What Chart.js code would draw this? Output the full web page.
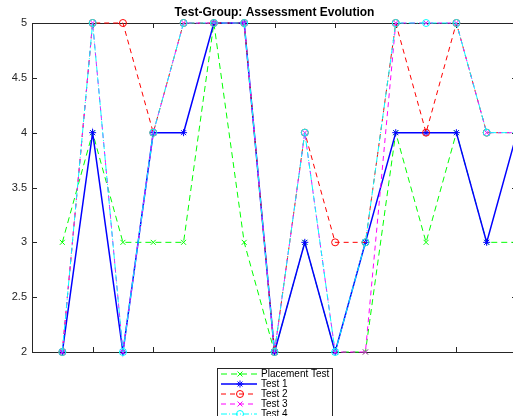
<!DOCTYPE html>
<html>
<head>
<meta charset="utf-8">
<script src="https://cdn.jsdelivr.net/npm/chart.js@4.4.1/dist/chart.umd.min.js"></script>
<style>
  html, body { margin: 0; padding: 0; background: #fff; overflow: hidden; }
</style>
</head>
<body>
<canvas id="chart" width="530" height="416"></canvas>
<script>
// data
const sessions = [1, 2, 3, 4, 5, 6, 7, 8, 9, 10, 11, 12, 13, 14, 15, 16];
const placementTest = [3, 4, 3, 3, 3, 5, 3, 2, 3, 2, 2, 4, 3, 4, 3, 3];
const test1 = [2, 4, 2, 4, 4, 5, 5, 2, 3, 2, 3, 4, 4, 4, 3, 4];
const test2 = [2, 5, 5, 4, 5, 5, 5, 2, 4, 3, 3, 5, 4, 5, 4, 4];
const test3 = [2, 5, 2, 4, 5, 5, 5, 2, 4, 2, 2, 5, 5, 5, 4, 4];
const test4 = [2, 5, 2, 4, 5, 5, 5, 2, 4, 2, 3, 5, 5, 5, 4, 4];
const yTicks = [2, 2.5, 3, 3.5, 4, 4.5, 5];
const xTicks = [2, 4, 6, 8, 10, 12, 14, 16];

const FONT = '"Liberation Sans", Arial, Helvetica, sans-serif';
const AXIS = '#262626';

function pts(vals) {
  return vals.map((v, i) => ({ x: sessions[i], y: v }));
}

function series(label, vals, color, dash, style, width, order) {
  return {
    label: label,
    data: pts(vals),
    borderColor: color,
    backgroundColor: 'rgba(0,0,0,0)',
    borderWidth: width,
    borderDash: dash,
    pointStyle: style,
    pointRadius: 3.5,
    pointBorderColor: color,
    pointBackgroundColor: 'rgba(0,0,0,0)',
    pointBorderWidth: 1,
    tension: 0,
    clip: false,
    order: order
  };
}

const datasets = [
  series('Placement Test', placementTest, '#00ff00', [6, 4], 'crossRot', 1, 5),
  series('Test 1', test1, '#0000ff', [], 'star', 1.5, 4),
  series('Test 2', test2, '#ff0000', [5, 4], 'circle', 1, 3),
  series('Test 3', test3, '#ff00ff', [5, 4], 'crossRot', 1, 2),
  series('Test 4', test4, '#00ffff', [6, 2, 1, 2], 'circle', 1, 1)
];

// box, inward ticks, title and legend, matlab style
const matlabAxes = {
  id: 'matlabAxes',
  beforeDatasetsDraw(chart) {
    const ctx = chart.ctx, a = chart.chartArea;
    const xs = chart.scales.x, ys = chart.scales.y;
    ctx.save();
    ctx.strokeStyle = AXIS;
    ctx.lineWidth = 1;
    ctx.beginPath();
    xTicks.forEach(t => {
      const px = Math.round(xs.getPixelForValue(t)) + 0.5;
      ctx.moveTo(px, a.bottom); ctx.lineTo(px, a.bottom - 5);
      ctx.moveTo(px, a.top); ctx.lineTo(px, a.top + 5);
    });
    yTicks.forEach(t => {
      const py = Math.round(ys.getPixelForValue(t)) + 0.5;
      ctx.moveTo(a.left, py); ctx.lineTo(a.left + 5, py);
      ctx.moveTo(a.right, py); ctx.lineTo(a.right - 5, py);
    });
    ctx.stroke();
    ctx.strokeRect(Math.round(a.left) + 0.5, Math.round(a.top) + 0.5,
      Math.round(a.right - a.left), Math.round(a.bottom - a.top));
    ctx.restore();
  },
  afterDraw(chart) {
    const ctx = chart.ctx, a = chart.chartArea;
    ctx.save();
    ctx.fillStyle = '#000';
    ctx.font = 'bold 12px ' + FONT;
    ctx.textAlign = 'center';
    ctx.textBaseline = 'middle';
    ctx.fillText('Test-Group: Assessment Evolution', (a.left + a.right) / 2, 13);

    // legend box
    const lx = 217, ly = 368, lw = 115, rowH = 10;
    ctx.fillStyle = '#fff';
    ctx.fillRect(lx, ly, lw, 60);
    ctx.strokeStyle = AXIS;
    ctx.lineWidth = 1;
    ctx.strokeRect(lx + 0.5, ly + 0.5, lw, 60);
    ctx.font = '10px ' + FONT;
    ctx.textAlign = 'left';
    chart.data.datasets.forEach((ds, i) => {
      const cy = ly + 6 + i * rowH;
      ctx.strokeStyle = ds.borderColor;
      ctx.lineWidth = ds.borderWidth;
      ctx.setLineDash(ds.borderDash);
      ctx.beginPath();
      ctx.moveTo(lx + 4, cy); ctx.lineTo(lx + 40, cy);
      ctx.stroke();
      ctx.setLineDash([]);
      ctx.lineWidth = 1;
      ctx.fillStyle = 'rgba(0,0,0,0)';
      Chart.helpers.drawPoint(ctx, { pointStyle: ds.pointStyle, radius: 3.5, rotation: 0, borderWidth: 1 }, lx + 23, cy);
      ctx.fillStyle = '#000';
      ctx.fillText(ds.label, lx + 44, cy + 0.5);
    });
    ctx.restore();
  }
};

new Chart(document.getElementById('chart'), {
  type: 'line',
  data: { datasets: datasets },
  options: {
    responsive: false,
    animation: false,
    layout: { padding: { top: 23, right: 13, left: 0, bottom: 0 } },
    plugins: { legend: { display: false }, tooltip: { enabled: false }, title: { display: false } },
    scales: {
      x: {
        type: 'linear', min: 0, max: 16,
        grid: { display: false }, border: { display: false },
        ticks: { display: false },
        afterFit(scale) { scale.height = 64; }
      },
      y: {
        min: 2, max: 5,
        grid: { display: false, drawTicks: false }, border: { display: false },
        afterBuildTicks(scale) { scale.ticks = yTicks.map(v => ({ value: v })); },
        ticks: {
          color: AXIS, padding: 5,
          font: { family: FONT, size: 11 },
          callback: v => String(v)
        },
        afterFit(scale) { scale.width = 32; }
      }
    }
  },
  plugins: [matlabAxes]
});
</script>
</body>
</html>
